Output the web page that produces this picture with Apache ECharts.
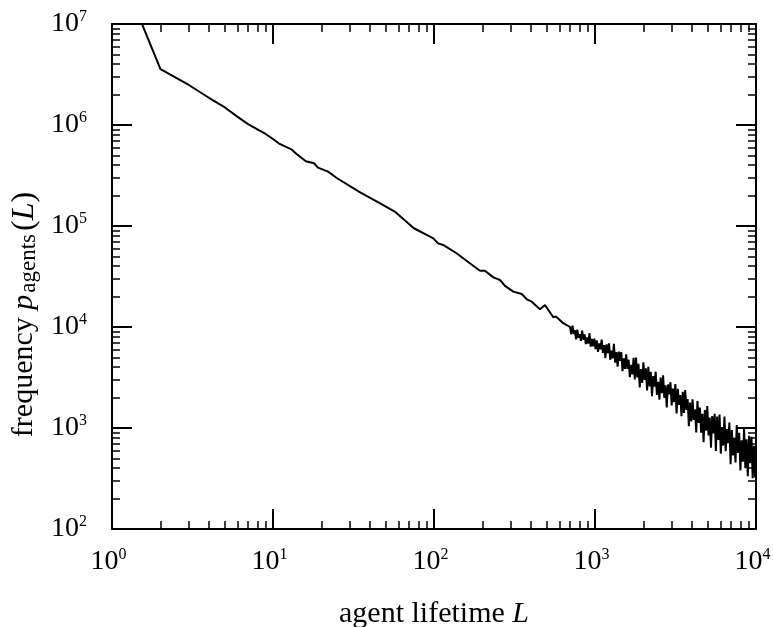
<!DOCTYPE html>
<html><head><meta charset="utf-8">
<script src="https://cdn.jsdelivr.net/npm/echarts@6/dist/echarts.min.js"></script>
<style>html,body{margin:0;padding:0;background:#fff}#c{width:773px;height:627px}</style>
</head><body><div id="c"></div>
<script>
// agent lifetime L
const lifetimes = [
  1,2,3,4,5,6,7,8,9,10,11,13,14,16,18,19,22,25,35,46,57,75,90,99,106,114,138,167,193,207,234,257,276,311,351,377,405,455,489,551,572,635,
  700,712,725,738,750,763,776,790,804,818,832,847,862,877,892,908,924,940,957,974,991,
  1008,1026,1044,1062,1081,1100,1120,1140,1160,1180,1200,1222,1244,1266,1288,1310,1334,1358,1382,1406,1430,1456,1482,1508,1534,1562,1590,1618,1646,1676,1706,1736,1766,1798,1830,1862,1896,1930,1964,1998,2034,2070,2106,2144,
  2182,2220,2260,2300,2340,2382,2424,2468,2512,2556,2602,2648,2694,2742,2790,2840,2890,2942,2994,3048,3102,3156,3212,3270,3328,3386,3446,3508,3570,3632,3696,3762,3828,3896,3966,4036,4108,4180,4254,4330,4406,4484,4564,4644,4726,4810,4896,4982,5070,5160,5252,5344,5440,5536,5634,
  5734,5836,5938,6044,6150,6260,6370,6484,6598,6714,6834,6954,7078,7202,7330,7460,7592,7726,7862,8002,8144,8288,8434,8584,8736,8890,9048,9208,9370,9536,9704,9876,10000
];
// frequency p_agents(L)
const frequencies = [
  5.3e7,3.58e6,2.49e6,1.86e6,1.50e6,1.21e6,1.02e6,9.06e5,8.15e5,7.26e5,6.49e5,5.74e5,5.16e5,4.38e5,4.18e5,3.78e5,3.45e5,2.97e5,2.14e5,1.68e5,1.39e5,9.5e4,8.15e4,7.55e4,6.73e4,6.49e4,5.37e4,4.28e4,3.61e4,3.61e4,3.10e4,2.92e4,2.55e4,2.24e4,2.12e4,1.88e4,1.78e4,1.50e4,1.65e4,1.25e4,1.27e4,1.09e4,
  1.00e4,8.47e3,1.03e4,8.55e3,9.29e3,7.53e3,9.40e3,7.83e3,8.51e3,7.29e3,9.23e3,7.48e3,8.45e3,6.78e3,7.89e3,6.86e3,8.71e3,6.40e3,7.62e3,6.42e3,7.66e3,
  6.05e3,7.35e3,5.66e3,6.89e3,6.00e3,7.52e3,5.55e3,6.61e3,4.91e3,6.73e3,5.51e3,6.90e3,4.74e3,5.83e3,4.88e3,6.82e3,4.43e3,5.66e3,4.05e3,5.71e3,4.62e3,5.64e3,3.66e3,4.90e3,3.85e3,5.35e3,3.84e3,4.74e3,3.18e3,4.21e3,3.39e3,4.95e3,3.03e3,4.97e3,3.17e3,4.33e3,2.52e3,3.83e3,2.79e3,4.47e3,3.00e3,3.89e3,2.36e3,4.03e3,
  2.58e3,3.60e3,2.07e3,3.27e3,2.57e3,3.61e3,2.13e3,2.86e3,1.91e3,3.16e3,2.21e3,3.32e3,1.99e3,2.65e3,1.60e3,2.70e3,2.15e3,2.84e3,1.67e3,2.45e3,1.80e3,2.73e3,1.39e3,2.44e3,1.69e3,2.12e3,1.31e3,2.28e3,1.41e3,2.37e3,1.51e3,1.94e3,1.04e3,1.79e3,1.16e3,1.92e3,1.20e3,1.53e3,9.02e2,1.85e3,1.12e3,1.59e3,8.97e2,1.38e3,7.23e2,1.51e3,9.42e2,1.65e3,8.45e2,1.27e3,6.38e2,1.31e3,8.85e2,1.38e3,5.92e2,
  1.30e3,7.62e2,1.36e3,5.58e2,1.02e3,6.70e2,1.30e3,5.89e2,9.77e2,7.08e2,1.13e3,4.39e2,9.53e2,5.36e2,8.02e2,4.55e2,1.07e3,5.65e2,8.97e2,3.80e2,7.57e2,4.63e2,9.79e2,3.99e2,7.73e2,3.34e2,8.36e2,4.47e2,8.18e2,3.18e2,6.67e2,3.24e2,6.10e2
];
const xRange = [1, 10000];
const yRange = [100, 1e7];
const xTitle = '{t|agent lifetime }{i|L}';
const yTitle = '{t|frequency }{i|p}{sub|agents}{b|(}{bi|L}{b|)}';

const FONT = '"Liberation Serif", "Times New Roman", serif';
const chart = echarts.init(document.getElementById('c'), null, {renderer: 'canvas'});

const expLabel = v => '{b|10}{s|' + Math.round(Math.log10(v)) + '}';
const labelRich = {
  b: {fontFamily: FONT, fontSize: 28, color: '#000', lineHeight: 30},
  s: {fontFamily: FONT, fontSize: 16, color: '#000', lineHeight: 16, verticalAlign: 'top'}
};
const titleRich = {
  t: {fontFamily: FONT, fontSize: 30, color: '#000'},
  i: {fontFamily: FONT, fontSize: 30, color: '#000', fontStyle: 'italic'},
  b: {fontFamily: FONT, fontSize: 32, color: '#000'},
  bi: {fontFamily: FONT, fontSize: 32, color: '#000', fontStyle: 'italic'},
  sub: {fontFamily: FONT, fontSize: 23, color: '#000', verticalAlign: 'bottom', lineHeight: 22, padding: [0, 3, 0, 2]}
};

function axis(kind, pos, range, showLabel, extra) {
  return Object.assign({
    type: 'log', logBase: 10, position: pos,
    min: range[0], max: range[1],
    axisLine: {show: true, onZero: false, lineStyle: {color: '#000', width: 2}},
    axisTick: {show: true, inside: true, length: 20, lineStyle: {color: '#000', width: 2}},
    minorTick: {show: true, splitNumber: 9, length: 8, lineStyle: {color: '#000', width: 1.5}},
    splitLine: {show: false},
    minorSplitLine: {show: false},
    axisLabel: showLabel ? {
      show: true, formatter: expLabel, rich: labelRich,
      margin: kind === 'x' ? 18 : 18, padding: [0, 7, 0, 0]
    } : {show: false}
  }, extra || {});
}

chart.setOption({
  animation: false,
  backgroundColor: '#fff',
  grid: {left: 112, right: 17, top: 24, bottom: 98, containLabel: false, outerBoundsMode: 'none'},
  xAxis: [
    axis('x', 'bottom', xRange, true, {
      splitNumber: 4,
      name: xTitle, nameLocation: 'middle', nameGap: 70,
      nameTextStyle: {rich: titleRich}
    }),
    axis('x', 'top', xRange, false, {splitNumber: 4})
  ],
  yAxis: [
    axis('y', 'left', yRange, true, {
      splitNumber: 5,
      name: yTitle, nameLocation: 'middle', nameGap: 70, nameRotate: 90,
      nameTextStyle: {rich: titleRich, padding: [0, 76, 0, 0]}
    }),
    axis('y', 'right', yRange, false, {splitNumber: 5})
  ],
  series: [{
    type: 'line',
    data: lifetimes.map((L, i) => [L, frequencies[i]]),
    showSymbol: false,
    symbol: 'none',
    clip: true,
    lineStyle: {color: '#000', width: 2},
    xAxisIndex: 0, yAxisIndex: 0
  }]
});
</script>
</body></html>
